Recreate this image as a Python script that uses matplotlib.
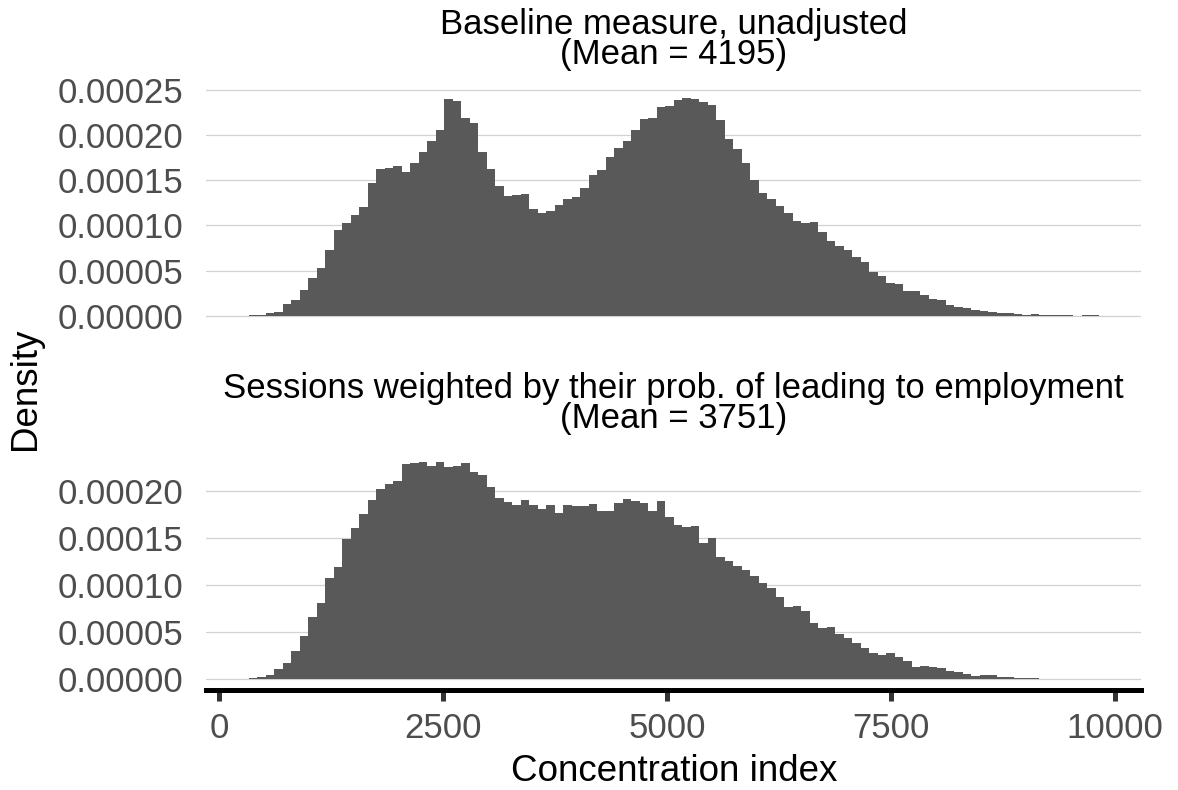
import numpy as np
import matplotlib
matplotlib.use("Agg")
import matplotlib.pyplot as plt
from matplotlib.ticker import FormatStrFormatter

plt.rcParams['font.family'] = ['Liberation Sans', 'DejaVu Sans']

# Histogram: 100 equal bins spanning the observed range of the index
bin_lo, bin_hi, n_bins = 327, 9821, 100

# Bin densities, in units of 1e-5
baseline = [0.04, 0.04, 0.30, 0.41, 1.29, 1.74, 2.85, 4.18, 5.29, 7.29,
            9.50, 10.28, 11.17, 12.06, 14.72, 16.27, 16.38, 16.60, 15.94, 16.94,
            18.16, 19.38, 20.60, 24.04, 23.82, 21.93, 21.37, 18.16, 16.27, 14.39,
            13.28, 13.39, 13.50, 11.83, 11.39, 11.61, 12.28, 12.94, 13.17, 14.16,
            15.61, 16.16, 17.60, 18.60, 19.38, 20.60, 21.82, 21.93, 23.15, 23.26,
            23.93, 24.15, 24.04, 23.70, 23.37, 21.71, 19.60, 18.49, 16.94, 15.05,
            13.61, 12.94, 12.17, 11.39, 10.50, 10.28, 10.39, 9.28, 8.28, 7.73,
            7.29, 6.51, 5.95, 4.84, 4.40, 3.62, 3.51, 2.74, 2.74, 2.29,
            1.85, 1.74, 1.18, 0.96, 0.81, 0.63, 0.52, 0.41, 0.30, 0.30,
            0.18, 0.07, 0.18, 0.07, 0.07, 0.07, 0.04, 0.00, 0.07, 0.07]

weighted = [0.07, 0.18, 0.43, 1.06, 1.70, 2.98, 4.57, 6.60, 8.08, 10.74,
            11.91, 14.89, 16.06, 17.55, 19.04, 20.21, 20.74, 21.06, 22.87, 22.98,
            23.08, 22.66, 23.08, 22.55, 22.66, 22.98, 22.02, 21.70, 20.42, 19.25,
            18.83, 18.51, 19.04, 18.51, 18.08, 18.51, 17.66, 18.51, 18.40, 18.40,
            18.62, 17.87, 17.87, 18.72, 19.15, 18.94, 18.72, 17.87, 18.94, 17.23,
            16.38, 16.17, 16.28, 14.47, 15.00, 12.98, 12.55, 12.02, 11.60, 10.96,
            10.21, 9.68, 8.72, 7.66, 7.77, 7.23, 5.96, 5.43, 5.53, 4.79,
            4.36, 3.83, 3.30, 2.77, 2.55, 2.77, 2.34, 1.91, 1.28, 1.38,
            1.28, 1.17, 0.85, 0.74, 0.53, 0.32, 0.43, 0.43, 0.21, 0.21,
            0.11, 0.11, 0.11, 0.04, 0.04, 0.04, 0.04, 0.04, 0.04, 0.04]

titles = ["Baseline measure, unadjusted\n(Mean = 4195)",
          "Sessions weighted by their prob. of leading to employment\n(Mean = 3751)"]
yticks = [[0, 0.00005, 0.0001, 0.00015, 0.0002, 0.00025],
          [0, 0.00005, 0.0001, 0.00015, 0.0002]]
xticks = [0, 2500, 5000, 7500, 10000]

edges = np.linspace(bin_lo, bin_hi, n_bins + 1)
pad_x = 0.05 * (bin_hi - bin_lo)

fig = plt.figure(figsize=(11.78, 7.90), dpi=100)
ax_top = fig.add_axes([0.1749, 0.5866, 0.7941, 0.3033])
ax_bot = fig.add_axes([0.1749, 0.1267, 0.7941, 0.3022])

for ax, vals, title, yt in zip([ax_top, ax_bot], [baseline, weighted], titles, yticks):
    dens = np.array(vals) * 1e-5
    ax.stairs(dens, edges, fill=True, color='#595959', zorder=2)
    ymax = dens.max()
    ax.set_ylim(-0.05 * ymax, 1.05 * ymax)
    ax.set_xlim(bin_lo - pad_x, bin_hi + pad_x)
    ax.set_yticks(yt)
    ax.yaxis.set_major_formatter(FormatStrFormatter('%.5f'))
    ax.grid(axis='y', color='#d2d2d2', linewidth=0.9, zorder=0)
    ax.set_axisbelow(True)
    for s in ax.spines.values():
        s.set_visible(False)
    ax.tick_params(axis='y', length=0, pad=16, labelsize=25, labelcolor='#4d4d4d')
    ax.set_title(title, fontsize=25, pad=16.5, linespacing=0.88)

ax_top.set_xticks([])

ax_bot.set_xticks(xticks)
ax_bot.spines['bottom'].set_visible(True)
ax_bot.spines['bottom'].set_linewidth(3.6)
ax_bot.spines['bottom'].set_color('black')
ax_bot.tick_params(axis='x', length=8, width=3.6, color='#333333', pad=7.7,
                   labelsize=25, labelcolor='#4d4d4d')

fig.text(26 / 1178, 1 - 388.5 / 790, "Density", rotation=90, ha='center', va='center', fontsize=26.5)
fig.text(673.7 / 1178, 1 - 781 / 790, "Concentration index", ha='center', va='baseline', fontsize=26.5)

fig.savefig("out.png", dpi=100)
